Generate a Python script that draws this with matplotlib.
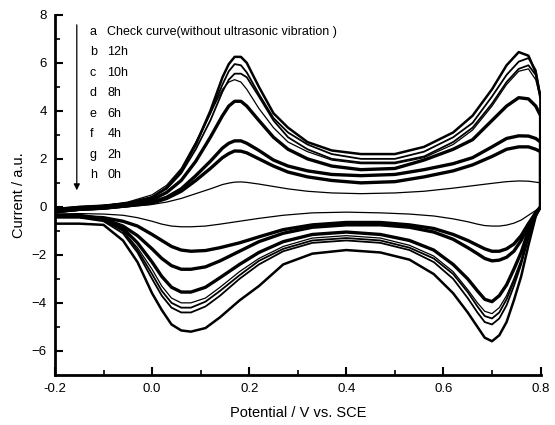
import numpy as np
import matplotlib
matplotlib.use("Agg")
import matplotlib.pyplot as plt

plt.rcParams['font.family'] = ['Liberation Sans', 'DejaVu Sans']

# Potential grid for the anodic (forward) sweep, -0.2 -> 0.8 V
x_anodic = [-0.2, -0.15, -0.1, -0.05, 0.0, 0.03, 0.06, 0.09, 0.12, 0.145, 0.158, 0.17, 0.183,
            0.195, 0.22, 0.25, 0.28, 0.32, 0.37, 0.43, 0.5, 0.56, 0.62, 0.66, 0.7, 0.73,
            0.755, 0.775, 0.79, 0.8]
# Potential grid for the cathodic (reverse) sweep, 0.8 -> -0.2 V
x_cathodic = [0.8, 0.79, 0.775, 0.76, 0.745, 0.73, 0.715, 0.7, 0.685, 0.67, 0.65, 0.62,
              0.58, 0.53, 0.47, 0.4, 0.33, 0.27, 0.22, 0.18, 0.14, 0.11, 0.08, 0.06,
              0.04, 0.02, 0.0, -0.03, -0.06, -0.1, -0.15, -0.2]

# Anodic currents (a.u.)
a_up = [-0.1, 0.0, 0.05, 0.15, 0.4, 0.8, 1.5, 2.6, 4.0, 5.4, 5.95, 6.25, 6.25, 6.0, 5.0, 3.9,
        3.3, 2.7, 2.35, 2.2, 2.2, 2.5, 3.1, 3.8, 4.9, 5.9, 6.45, 6.3, 5.6, 4.5]
b_up = [-0.15, -0.05, 0.05, 0.15, 0.4, 0.8, 1.5, 2.6, 3.9, 5.1, 5.65, 5.95, 5.9, 5.6, 4.7,
        3.7, 3.1, 2.6, 2.2, 2.0, 2.0, 2.3, 2.9, 3.5, 4.6, 5.5, 6.05, 6.2, 5.7, 4.6]
c_up = [-0.1, 0.0, 0.05, 0.15, 0.4, 0.75, 1.4, 2.4, 3.6, 4.8, 5.3, 5.55, 5.55, 5.4, 4.6, 3.6,
        2.9, 2.4, 2.0, 1.85, 1.85, 2.1, 2.7, 3.3, 4.3, 5.2, 5.75, 5.9, 5.5, 4.6]
d_up = [-0.05, 0.0, 0.05, 0.2, 0.5, 0.9, 1.6, 2.7, 3.9, 4.9, 5.2, 5.3, 5.2, 4.9, 4.1, 3.3,
        2.7, 2.3, 1.95, 1.8, 1.8, 2.05, 2.6, 3.2, 4.2, 5.1, 5.65, 5.75, 5.3, 4.5]
e_up = [-0.15, -0.05, 0.0, 0.1, 0.3, 0.6, 1.1, 1.9, 2.9, 3.8, 4.2, 4.4, 4.4, 4.2, 3.6, 2.9,
        2.4, 2.0, 1.7, 1.55, 1.6, 1.95, 2.4, 2.8, 3.6, 4.2, 4.55, 4.5, 4.2, 3.8]
f_up = [-0.2, -0.1, -0.05, 0.05, 0.2, 0.4, 0.75, 1.3, 1.9, 2.45, 2.65, 2.75, 2.75, 2.65, 2.35,
        1.95, 1.7, 1.5, 1.35, 1.3, 1.35, 1.55, 1.8, 2.05, 2.5, 2.85, 2.96, 2.95, 2.85, 2.7]
g_up = [-0.2, -0.1, -0.05, 0.05, 0.15, 0.35, 0.65, 1.1, 1.6, 2.05, 2.22, 2.33, 2.32, 2.25,
        2.0, 1.7, 1.45, 1.25, 1.1, 1.0, 1.05, 1.25, 1.5, 1.75, 2.1, 2.4, 2.5, 2.5, 2.4, 2.3]
h_up = [-0.25, -0.15, -0.1, 0.0, 0.1, 0.2, 0.35, 0.55, 0.75, 0.93, 0.99, 1.03, 1.04, 1.02,
        0.95, 0.85, 0.75, 0.65, 0.58, 0.55, 0.58, 0.65, 0.78, 0.88, 0.98, 1.05, 1.08, 1.07,
        1.03, 1.0]

# Cathodic currents (a.u.)
a_down = [0.0, -0.4, -1.6, -2.9, -3.9, -4.8, -5.35, -5.6, -5.45, -5.0, -4.4, -3.6, -2.8, -2.2,
          -1.9, -1.8, -1.95, -2.4, -3.3, -3.9, -4.6, -5.05, -5.2, -5.15, -4.9, -4.3, -3.6,
          -2.3, -1.4, -0.75, -0.7, -0.7]
b_down = [0.0, -0.4, -1.3, -2.4, -3.3, -4.1, -4.65, -4.9, -4.8, -4.4, -3.8, -3.0, -2.3, -1.8,
          -1.5, -1.4, -1.5, -1.85, -2.4, -3.0, -3.7, -4.15, -4.4, -4.4, -4.2, -3.7, -3.0,
          -1.9, -1.1, -0.6, -0.45, -0.45]
c_down = [0.0, -0.35, -1.2, -2.3, -3.1, -3.85, -4.4, -4.65, -4.55, -4.15, -3.55, -2.8, -2.15,
          -1.7, -1.4, -1.3, -1.4, -1.75, -2.25, -2.85, -3.5, -3.95, -4.2, -4.2, -4.0, -3.5,
          -2.8, -1.8, -1.0, -0.55, -0.4, -0.4]
d_down = [0.0, -0.35, -1.15, -2.2, -3.0, -3.7, -4.2, -4.45, -4.35, -4.0, -3.45, -2.7, -2.05,
          -1.6, -1.3, -1.2, -1.3, -1.65, -2.15, -2.7, -3.35, -3.8, -4.0, -4.0, -3.8, -3.3,
          -2.6, -1.7, -1.0, -0.55, -0.4, -0.35]
e_down = [0.0, -0.3, -1.0, -1.9, -2.6, -3.25, -3.7, -3.95, -3.85, -3.5, -3.0, -2.4, -1.8,
          -1.4, -1.15, -1.05, -1.15, -1.45, -1.9, -2.4, -2.95, -3.35, -3.55, -3.55, -3.35,
          -2.9, -2.3, -1.5, -0.9, -0.5, -0.35, -0.35]
f_down = [0.0, -0.25, -0.8, -1.4, -1.85, -2.1, -2.22, -2.25, -2.15, -1.95, -1.7, -1.35, -1.05,
          -0.85, -0.75, -0.75, -0.85, -1.1, -1.45, -1.85, -2.25, -2.5, -2.6, -2.6, -2.45,
          -2.15, -1.75, -1.2, -0.8, -0.5, -0.4, -0.4]
g_down = [0.0, -0.25, -0.7, -1.2, -1.55, -1.75, -1.85, -1.85, -1.75, -1.6, -1.4, -1.15, -0.9,
          -0.75, -0.65, -0.65, -0.75, -0.95, -1.25, -1.5, -1.7, -1.82, -1.85, -1.8, -1.65,
          -1.4, -1.15, -0.8, -0.6, -0.45, -0.4, -0.4]
h_down = [0.0, -0.15, -0.35, -0.55, -0.68, -0.76, -0.8, -0.8, -0.78, -0.72, -0.62, -0.5,
          -0.38, -0.3, -0.25, -0.22, -0.25, -0.35, -0.48, -0.6, -0.72, -0.8, -0.83, -0.83,
          -0.8, -0.72, -0.6, -0.45, -0.35, -0.3, -0.28, -0.3]

curve_letters = ['a', 'b', 'c', 'd', 'e', 'f', 'g', 'h']
curve_labels = ['Check curve(without ultrasonic vibration )', '12h', '10h', '8h', '6h',
                '4h', '2h', '0h']
anodic = [a_up, b_up, c_up, d_up, e_up, f_up, g_up, h_up]
cathodic = [a_down, b_down, c_down, d_down, e_down, f_down, g_down, h_down]
widths = [1.8, 1.3, 1.3, 0.9, 2.4, 2.4, 2.4, 0.9]

x_ticks = [-0.2, 0.0, 0.2, 0.4, 0.6, 0.8]
x_ticklabels = ['-0.2', '0.0', '0.2', '0.4', '0.6', '0.8']
y_ticks = [-6, -4, -2, 0, 2, 4, 6, 8]

fig = plt.figure(figsize=(5.55, 4.25), dpi=100)
ax = fig.add_axes([0.099, 0.118, 0.875, 0.847])

for up, down, lw in zip(anodic, cathodic, widths):
    xs = np.concatenate([x_anodic, x_cathodic])
    ys = np.concatenate([up, down])
    ax.plot(xs, ys, color='black', lw=lw, solid_joinstyle='round', solid_capstyle='round')

ax.set_xlim(-0.2, 0.8)
ax.set_ylim(-7, 8)
ax.set_xticks(x_ticks)
ax.set_xticklabels(x_ticklabels)
ax.set_yticks(y_ticks)
ax.set_xticks(np.arange(-0.1, 0.8, 0.2), minor=True)
ax.set_yticks(np.arange(-5, 8, 2), minor=True)

for s in ['top', 'right']:
    ax.spines[s].set_visible(False)
for s in ['left', 'bottom']:
    ax.spines[s].set_linewidth(2.0)

ax.tick_params(which='major', direction='in', length=6, width=1.5, labelsize=9.5, pad=6)
ax.tick_params(which='minor', direction='in', length=3.5, width=1.2)

ax.set_xlabel('Potential / V vs. SCE', fontsize=10.5, labelpad=8)
ax.set_ylabel('Current / a.u.', fontsize=10.5, labelpad=4)

# legend block with arrow
y0 = 0.953
dy = 0.057
for i, (let, lab) in enumerate(zip(curve_letters, curve_labels)):
    ax.text(0.072, y0 - i * dy, let, transform=ax.transAxes, fontsize=9, va='center', ha='left')
    ax.text(0.108, y0 - i * dy, lab, transform=ax.transAxes, fontsize=9, va='center', ha='left')

ax.annotate('', xy=(0.045, 0.505), xytext=(0.045, 0.98), xycoords='axes fraction',
            arrowprops=dict(arrowstyle='-|>', color='black', lw=0.9, mutation_scale=9))

fig.savefig('out.png', dpi=100)
